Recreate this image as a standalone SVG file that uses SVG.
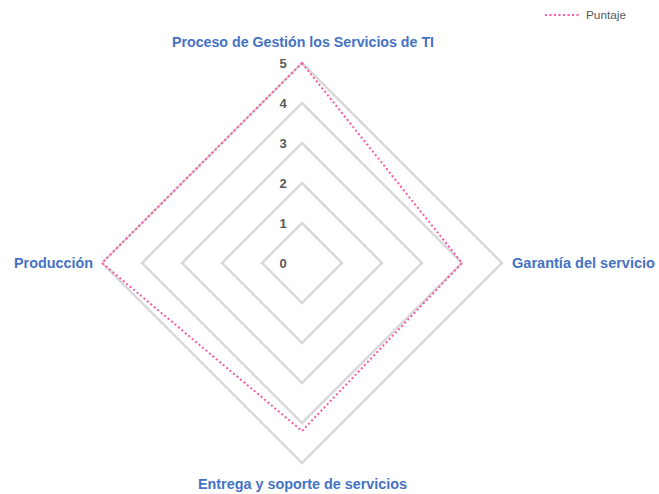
<svg xmlns="http://www.w3.org/2000/svg" width="659" height="494" viewBox="0 0 659 494">
<style>
.ring{fill:none;stroke:#D9D9D9;stroke-width:2.5;stroke-linejoin:miter}
.data{fill:none;stroke:#F85AA4;stroke-width:2;stroke-dasharray:2 2.5}
.ax{font-family:"Liberation Sans",Arial,sans-serif;font-weight:bold;font-size:14px;fill:#4472C4}
.tick{font-family:"Liberation Sans",Arial,sans-serif;font-weight:bold;font-size:13px;fill:#595959;text-anchor:middle}
.leg{font-family:"Liberation Sans",Arial,sans-serif;font-size:10.5px;fill:#595959}
</style>
<rect width="659" height="494" fill="#FFFFFF"/>
<g id="grid">
<polygon class="ring" points="302,223 342,263 302,303 262,263"/>
<polygon class="ring" points="302,183 382,263 302,343 222,263"/>
<polygon class="ring" points="302,143 422,263 302,383 182,263"/>
<polygon class="ring" points="302,103 462,263 302,423 142,263"/>
<polygon class="ring" points="302,63 502,263 302,463 102,263"/>
</g>
<g id="ticks">
<text class="tick" x="283" y="68">5</text>
<text class="tick" x="283" y="108">4</text>
<text class="tick" x="283" y="148">3</text>
<text class="tick" x="283" y="188">2</text>
<text class="tick" x="283" y="228">1</text>
<text class="tick" x="283" y="268">0</text>
</g>
<g id="connectors">
<polygon id="series-puntaje" class="data" points="302,63 462,263 302,431 102,263"/>
</g>
<g id="node-top"><text class="ax" x="172" y="47" textLength="262" lengthAdjust="spacingAndGlyphs">Proceso de Gestión los Servicios de TI</text></g>
<g id="node-right"><text class="ax" x="512" y="268" textLength="143" lengthAdjust="spacingAndGlyphs">Garantía del servicio</text></g>
<g id="node-bottom"><text class="ax" x="198" y="489" textLength="209" lengthAdjust="spacingAndGlyphs">Entrega y soporte de servicios</text></g>
<g id="node-left"><text class="ax" x="14" y="268" textLength="79" lengthAdjust="spacingAndGlyphs">Producción</text></g>
<g id="legend">
<line class="data" x1="545" y1="15" x2="580" y2="15"/>
<text class="leg" x="586" y="19" textLength="40" lengthAdjust="spacingAndGlyphs">Puntaje</text>
</g>
</svg>
